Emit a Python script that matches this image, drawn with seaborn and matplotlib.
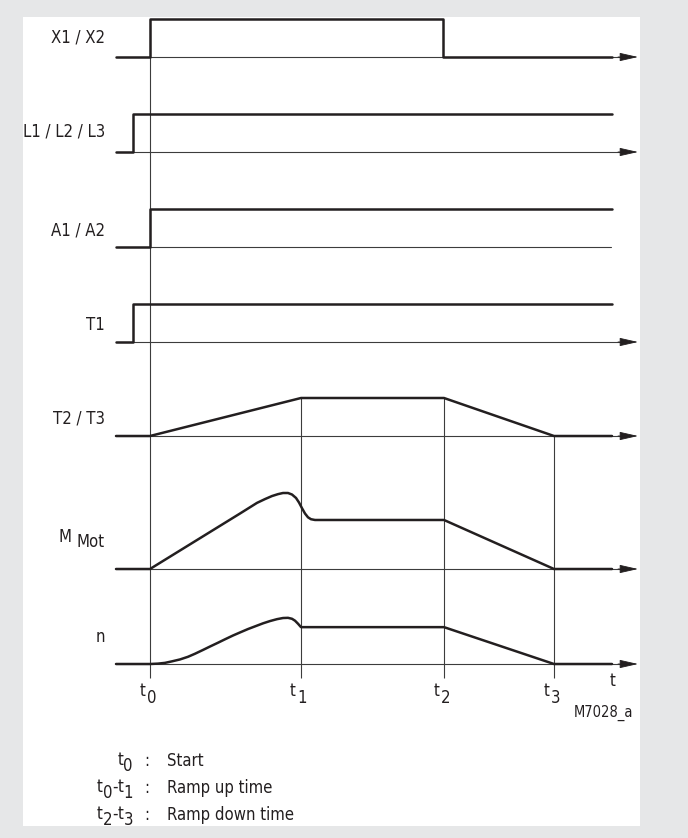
import numpy as np
import pandas as pd
import matplotlib
matplotlib.use("Agg")
import matplotlib.pyplot as plt
import seaborn as sns
from matplotlib import font_manager as fm
from matplotlib.patches import Rectangle, FancyArrowPatch

# ---------------- data (time axis in diagram units, levels relative to a logic "1") -------------
signal_names = ["X1 / X2", "L1 / L2 / L3", "A1 / A2", "T1", "T2 / T3", "M Mot", "n"]

x12_time = [116, 150, 150, 443, 443, 612]
x12_level = [0, 0, 1, 1, 0, 0]

l123_time = [116, 133, 133, 612]
l123_level = [0, 0, 1, 1]

a12_time = [116, 150, 150, 612]
a12_level = [0, 0, 1, 1]

t1_time = [116, 133, 133, 612]
t1_level = [0, 0, 1, 1]

t23_time = [116, 150, 301, 444, 554, 612]
t23_level = [0, 0, 1, 1, 0, 0]

mmot_time = [116, 150, 240, 257, 265, 272, 278, 283, 288, 292, 296, 299, 302, 305, 308, 311, 315,
             444, 554, 612]
mmot_level = [0, 0, 1.46, 1.74, 1.84, 1.92, 1.97, 2.0, 2.0, 1.96, 1.87, 1.75, 1.60, 1.46, 1.36,
              1.31, 1.29, 1.29, 0, 0]

n_time = [116, 150, 158, 165, 172, 180, 188, 195, 203, 210, 218, 225, 233, 240, 248, 255, 263,
          270, 277, 283, 288, 292, 295, 298, 301, 444, 554, 612]
n_level = [0, 0, 0.01, 0.03, 0.07, 0.12, 0.19, 0.27, 0.37, 0.46, 0.56, 0.65, 0.75, 0.83, 0.92,
           0.99, 1.07, 1.13, 1.18, 1.21, 1.215, 1.19, 1.14, 1.06, 0.97, 0.97, 0, 0]

event_times = [150, 301, 444, 554]
event_digits = ["0", "1", "2", "3"]

legend_left = [[("t", 0), ("0", 1)],
               [("t", 0), ("0", 1), ("-", 0), ("t", 0), ("1", 1)],
               [("t", 0), ("2", 1), ("-", 0), ("t", 0), ("3", 1)]]
legend_text = ["Start", "Ramp up time", "Ramp down time"]
figure_code = "M7028_a"

# ---------------- layout -------------
baselines = [57, 152, 247, 342, 436, 569, 664]
has_arrow = [True, True, False, True, True, True, True]
unit = 38.0             # pixels per logic level
axis_start, axis_end_noarrow, arrow_tip = 116, 611, 638
label_right = 105
label_dy = [15, 15, 12, 12, 13, 0, 22]
vline_bottom = 678

INK = "#231f20"
THIN = "#3c3c3c"
BG = "#e6e7e8"

sns.set_style("white")

# pick a narrow / condensed sans if one is installed
font_kw = {}
names = {f.name for f in fm.fontManager.ttflist}
narrow = [f for f in fm.fontManager.ttflist
          if ("Narrow" in f.name or "Condensed" in f.name
              or str(f.stretch) in ("condensed", "semi-condensed", "extra-condensed", "75", "87.5"))
          and f.style == "normal"]
if "Liberation Sans Narrow" in names:
    fam = ["Liberation Sans Narrow", "DejaVu Sans"]
elif narrow:
    fam = [narrow[0].name, "DejaVu Sans"]
    font_kw = {"fontstretch": narrow[0].stretch}
else:
    fam = ["Roboto", "DejaVu Sans"]
plt.rcParams["font.family"] = fam

fig = plt.figure(figsize=(6.88, 8.38), dpi=100)
fig.patch.set_facecolor(BG)
ax = fig.add_axes([0, 0, 1, 1])
ax.add_patch(Rectangle((23, 17), 617, 809, facecolor="white", edgecolor="none", zorder=0))

series = [(x12_time, x12_level), (l123_time, l123_level), (a12_time, a12_level),
          (t1_time, t1_level), (t23_time, t23_level), (mmot_time, mmot_level),
          (n_time, n_level)]

frames = []
for name, (tt, lv), base in zip(signal_names, series, baselines):
    lv = np.asarray(lv, dtype=float)
    frames.append(pd.DataFrame({"time": tt, "y": base - lv * unit, "signal": name}))
df = pd.concat(frames, ignore_index=True)

# thin axis lines with arrow heads
for base, arr in zip(baselines, has_arrow):
    if arr:
        ax.plot([axis_start, arrow_tip - 10], [base, base], color=THIN, lw=0.8, zorder=2)
        ax.add_patch(FancyArrowPatch((arrow_tip - 20, base), (arrow_tip, base),
                                     arrowstyle="-|>,head_length=11.5,head_width=2.6",
                                     mutation_scale=1, lw=0.6, color=INK,
                                     shrinkA=0, shrinkB=0, zorder=2))
    else:
        ax.plot([axis_start, axis_end_noarrow], [base, base], color=THIN, lw=0.8, zorder=2)

# vertical event lines
v_tops = [baselines[0] - unit, baselines[4] - unit, baselines[4] - unit, baselines[4]]
ax.vlines(event_times, v_tops, vline_bottom, color=THIN, lw=0.8, zorder=2)

# signals
sns.lineplot(data=df, x="time", y="y", units="signal", estimator=None, sort=False,
             color=INK, lw=1.8, ax=ax, zorder=3, legend=False)
ax.set_xlim(0, 688)
ax.set_ylim(838, 0)
ax.axis("off")

FS = 12
renderer = fig.canvas.get_renderer()


def txt(x, y, s, size=FS, **kw):
    return ax.text(x, y, s, fontsize=size, color=INK, va="baseline", **font_kw, **kw)


def draw_pieces(pieces, x, y, ha="left", size=FS, sub_dy=6.5):
    items = []
    for s, sub in pieces:
        t = txt(0, 0, s, size=size, ha="left")
        items.append((t, sub, t.get_window_extent(renderer=renderer).width))
    total = sum(w for _, _, w in items)
    cur = x - total if ha == "right" else (x - total / 2 if ha == "center" else x)
    for t, sub, w in items:
        t.set_position((cur, y + (sub_dy if sub else 0)))
        cur += w


# row labels
for name, base, dy in zip(signal_names, baselines, label_dy):
    if name == "M Mot":
        draw_pieces([("M ", 0), ("Mot", 1)], label_right, base - 27, ha="right", sub_dy=5)
    else:
        txt(label_right, base - dy, name, ha="right")

# event tick labels
for tx, d in zip(event_times, event_digits):
    txt(tx - 5, 696, "t", ha="right")
    txt(tx + 1.5, 703, d, ha="center")
txt(613, 686, "t", ha="center")
txt(633, 717, figure_code, size=10.5, ha="right")

# legend
leg_base = [766, 793, 820]
for pieces, label, yb in zip(legend_left, legend_text, leg_base):
    draw_pieces(pieces, 133, yb - 1, ha="right", sub_dy=6)
    txt(147, yb, ":", ha="center")
    txt(167, yb, label, ha="left")

fig.savefig("out.png", dpi=100, facecolor=BG)
